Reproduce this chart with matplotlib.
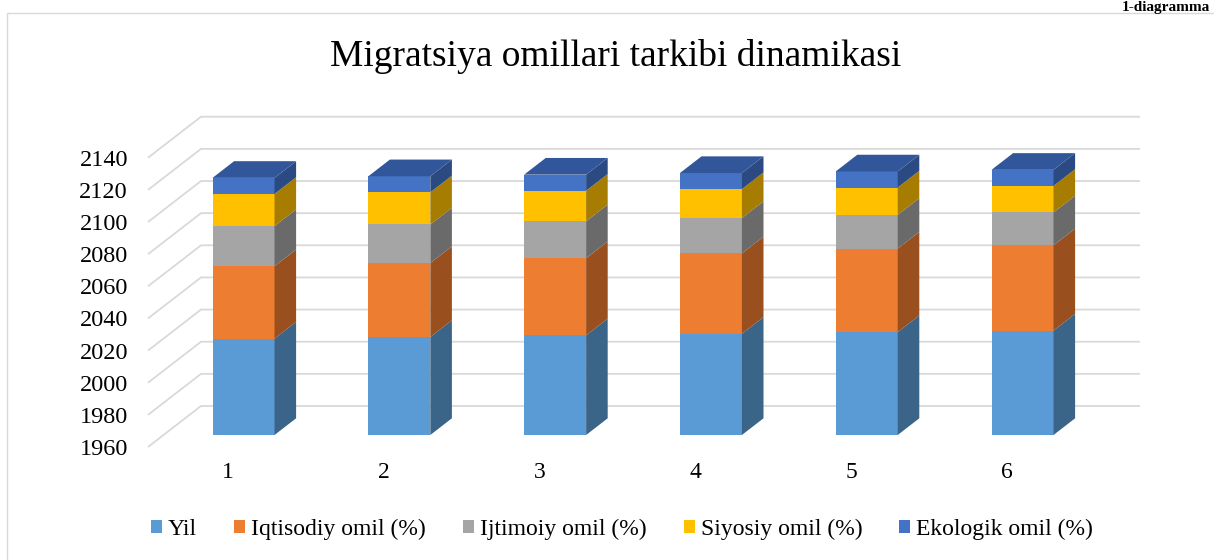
import matplotlib
matplotlib.use("Agg")
import matplotlib.pyplot as plt
from matplotlib.patches import Polygon, Patch, Rectangle

# data
categories = [1, 2, 3, 4, 5, 6]
yil = [2020, 2021, 2022, 2023, 2024, 2025]
iqtisodiy = [45, 46, 48, 50, 52, 53]
ijtimoiy = [25, 24, 23, 22, 21, 20.5]
siyosiy = [20, 20, 19, 18, 17, 16.5]
ekologik = [10, 10, 10, 10, 10, 10]
series_names = ["Yil", "Iqtisodiy omil (%)", "Ijtimoiy omil (%)",
                "Siyosiy omil (%)", "Ekologik omil (%)"]
yticks = list(range(1960, 2141, 20))
base = 1960

front_c = ["#5B9BD5", "#ED7D31", "#A5A5A5", "#FFC000", "#4472C4"]
side_c = ["#3B6588", "#9A4F1E", "#6A6A6A", "#A67D00", "#2B4A82"]
top_c = "#31579A"

plt.rcParams["font.family"] = ["Liberation Serif", "DejaVu Serif"]

fig = plt.figure(figsize=(12.14, 5.6), dpi=100)
ax = fig.add_axes([0, 0, 1, 1])

# pixel geometry of the fake 3d box (front plane)
px_cat = 155.8
px_val = 1.607
x0 = 1 - 228 / px_cat
y1 = base + 447 / px_val
ax.set_xlim(x0, x0 + 1214 / px_cat)
ax.set_ylim(y1 - 560 / px_val, y1)

DX = 53 / px_cat
DY = 41 / px_val
f0 = 12 / 41
t = 16.7 / 41
w = 62 / px_cat
left_front = 1 - 80 / px_cat
right_front = 6 + 80 / px_cat

# walls gridlines
for v in yticks:
    ax.plot([left_front, left_front + DX, right_front + DX],
            [v, v + DY, v + DY], color="#d9d9d9", lw=1.3, zorder=1,
            solid_capstyle="butt")

# stacked 3d columns
series = [[y - base for y in yil], iqtisodiy, ijtimoiy, siyosiy, ekologik]
bottoms = [base] * len(categories)
xc = [c + f0 * DX for c in categories]
for j, vals in enumerate(series):
    ax.bar(xc, vals, bottom=[b + f0 * DY for b in bottoms], width=w,
           color=front_c[j], linewidth=0, zorder=3)
    for k in range(len(categories)):
        xr = xc[k] + w / 2
        b = bottoms[k] + f0 * DY
        h = vals[k]
        ax.add_patch(Polygon([(xr, b), (xr + t * DX, b + t * DY),
                              (xr + t * DX, b + h + t * DY), (xr, b + h)],
                             closed=True, facecolor=side_c[j], lw=0, zorder=3))
        if j == len(series) - 1:
            xl = xc[k] - w / 2
            top = b + h
            ax.add_patch(Polygon([(xl, top), (xr, top),
                                  (xr + t * DX, top + t * DY),
                                  (xl + t * DX, top + t * DY)],
                                 closed=True, facecolor=top_c, lw=0, zorder=3))
    bottoms = [bottoms[k] + vals[k] for k in range(len(categories))]

# axes ticks
ax.set_yticks(yticks)
ax.set_yticklabels([str(v) for v in yticks])
ax.spines["left"].set_position(("data", left_front))
ax.set_xticks(categories)
ax.set_xticklabels([str(c) for c in categories])
ax.spines["bottom"].set_position(("data", base))
for s in ax.spines.values():
    s.set_visible(False)
ax.tick_params(axis="y", length=0, pad=14.4, labelsize=17.5)
ax.tick_params(axis="x", length=0, pad=11, labelsize=17)
ax.patch.set_alpha(0)

fig.text(616 / 1214, 1 - 57 / 560, "Migratsiya omillari tarkibi dinamikasi",
         ha="center", va="center", fontsize=27)
fig.text(1210 / 1214, 1 - 0.5 / 560, "1-diagramma", ha="right", va="top",
         fontsize=11, fontweight="bold")
fig.add_artist(Rectangle((7 / 1214, -0.1), 1.2, 1.1 - 13 / 560,
                         transform=fig.transFigure, fill=False,
                         edgecolor="#d9d9d9", lw=1))

handles = [Patch(facecolor=front_c[j], label=series_names[j]) for j in range(5)]
fig.legend(handles=handles, loc="center", bbox_to_anchor=(622 / 1214, 1 - 529 / 560),
           ncol=5, frameon=False, fontsize=17, handlelength=0.47,
           handleheight=0.47, handletextpad=0.25, columnspacing=1.57)

fig.savefig("out.png", dpi=100)
